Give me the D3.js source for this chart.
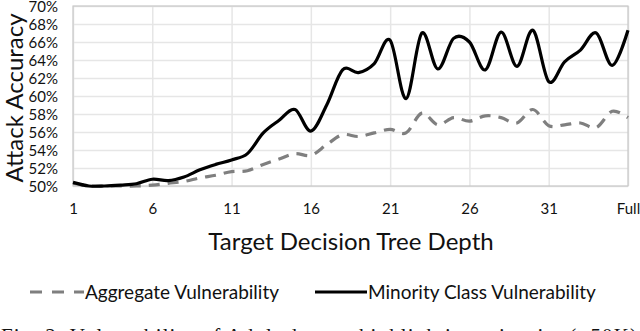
<!DOCTYPE html>
<html><head><meta charset="utf-8">
<script src="https://cdn.jsdelivr.net/npm/d3@7"></script>
<style>
body{margin:0;background:#fff;}
svg{display:block;}
</style></head>
<body><svg id="c" width="640" height="331"></svg>
<script>
const depths = ["1","2","3","4","5","6","7","8","9","10","11","12","13","14","15","16","17","18","19","20","21","22","23","24","25","26","27","28","29","30","31","32","33","34","35","Full"];
const xTickLabels = ["1","6","11","16","21","26","31","Full"];
const yTicks = [50,52,54,56,58,60,62,64,66,68,70];
const aggregate = [50.3,50.0,50.0,50.0,50.0,50.1,50.3,50.5,50.9,51.2,51.6,51.7,52.4,53.0,53.6,53.4,54.6,55.7,55.5,55.9,56.3,55.9,58.1,56.8,57.6,57.2,57.8,57.6,57.0,58.5,56.7,56.8,57.0,56.5,58.3,57.6];
const minority = [50.4,50.0,50.0,50.1,50.25,50.75,50.6,51.0,51.8,52.4,52.9,53.6,55.9,57.3,58.5,56.1,59.0,62.9,62.6,63.6,66.2,59.7,67.0,63.0,66.4,66.0,62.9,67.1,63.3,67.3,61.6,63.8,65.1,67.0,63.4,67.3];
const seriesNames = ["Aggregate Vulnerability","Minority Class Vulnerability"];
const yTitle = "Attack Accuracy";
const xTitle = "Target Decision Tree Depth";
const caption = "Fig. 2: Vulnerability of Adult dataset highlighting minority (>50K)";

const svg = d3.select("#c");
const L=73,R=628,T=6,B=186;
const x = d3.scalePoint().domain(depths).range([L,R]).padding(0);
const y = d3.scaleLinear().domain([50,70]).range([B,T]);
const font = "Lato, Calibri, 'Open Sans', sans-serif";

// horizontal gridlines
const yAxis = d3.axisLeft(y).tickValues(yTicks).tickSize(-(R-L)).tickFormat(d=>d+"%");
const gy = svg.append("g").attr("transform",`translate(${L},0)`).call(yAxis);
gy.select(".domain").remove();
gy.selectAll(".tick line").attr("stroke","#e6e6e6").attr("stroke-width",1.5);
gy.selectAll(".tick text").attr("x",-15).attr("dy","0.36em").attr("font-family",font).attr("font-size",15).attr("fill","#111");

// vertical gridlines + labels
const xAxis = d3.axisBottom(x).tickValues(xTickLabels).tickSize(-(B-T)).tickPadding(17);
const gx = svg.append("g").attr("transform",`translate(0,${B})`).call(xAxis);
gx.select(".domain").remove();
gx.selectAll(".tick line").attr("stroke","#e6e6e6").attr("stroke-width",1.5);
gx.selectAll(".tick text").attr("font-family",font).attr("font-size",15).attr("fill","#111");

// plot border
svg.append("rect").attr("x",L).attr("y",T).attr("width",R-L).attr("height",B-T)
  .attr("fill","none").attr("stroke","#c9c9c9").attr("stroke-width",1.2);

const line = d3.line().x((d,i)=>x(depths[i])).y(d=>y(d)).curve(d3.curveCardinal.tension(0));
svg.append("path").datum(aggregate).attr("d",line).attr("fill","none")
  .attr("stroke","#7f7f7f").attr("stroke-width",3.2).attr("stroke-dasharray","11,8");
svg.append("path").datum(minority).attr("d",line).attr("fill","none")
  .attr("stroke","#000").attr("stroke-width",3.2);

// axis titles
svg.append("text").attr("transform",`translate(23,${(T+B)/2+2}) rotate(-90)`)
  .attr("text-anchor","middle").attr("font-family",font).attr("font-size",24).attr("fill","#111").text(yTitle);
svg.append("text").attr("x",351).attr("y",250).attr("text-anchor","middle")
  .attr("font-family",font).attr("font-size",24).attr("fill","#111").text(xTitle);

// legend
const lg = svg.append("g");
lg.append("line").attr("x1",30).attr("x2",84).attr("y1",292).attr("y2",292)
  .attr("stroke","#7f7f7f").attr("stroke-width",3).attr("stroke-dasharray","12,10");
lg.append("text").attr("x",85).attr("y",299).attr("font-family",font).attr("font-size",19).attr("fill","#111").text(seriesNames[0]);
lg.append("line").attr("x1",315).attr("x2",367).attr("y1",292).attr("y2",292)
  .attr("stroke","#000").attr("stroke-width",3);
lg.append("text").attr("x",368).attr("y",299).attr("font-family",font).attr("font-size",19).attr("fill","#111").text(seriesNames[1]);

// caption (cut off at bottom)
svg.append("text").attr("x",1).attr("y",343).attr("font-family","'Liberation Serif', 'Times New Roman', serif")
  .attr("font-size",21).attr("fill","#111").attr("textLength",636).attr("lengthAdjust","spacing").text(caption);
</script></body></html>
